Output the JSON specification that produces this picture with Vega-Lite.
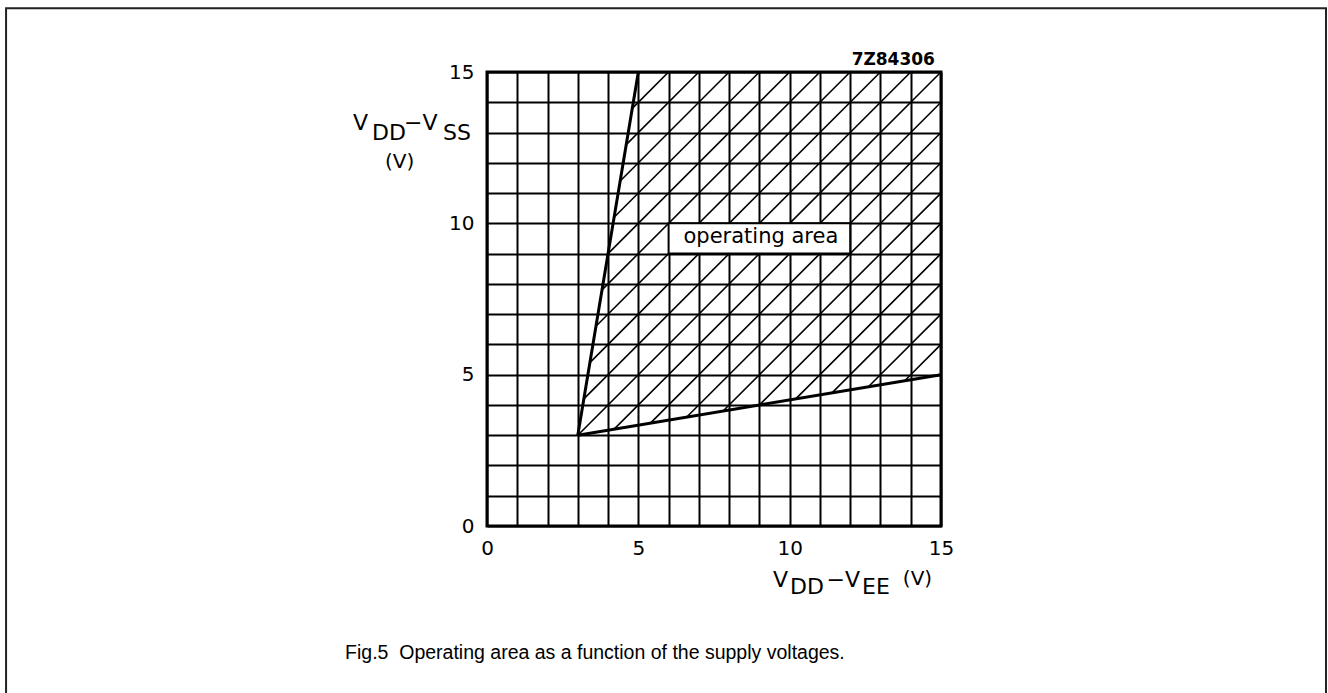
{
  "$schema": "https://vega.github.io/schema/vega-lite/v6.json",
  "width": 454,
  "height": 454,
  "autosize": {"type": "none"},
  "padding": {"left": 487, "top": 72, "right": 387, "bottom": 167},
  "background": "white",
  "config": {
    "view": {"stroke": "black", "strokeWidth": 3},
    "font": "DejaVu Sans"
  },
  "layer": [
    {
      "data": {"values": [
        {"x": 3, "y": 3, "x2": 15, "y2": 15},
        {"x": 3.2, "y": 4.2, "x2": 14, "y2": 15},
        {"x": 3.4, "y": 5.4, "x2": 13, "y2": 15},
        {"x": 3.6, "y": 6.6, "x2": 12, "y2": 15},
        {"x": 3.8, "y": 7.8, "x2": 11, "y2": 15},
        {"x": 4.0, "y": 9.0, "x2": 10, "y2": 15},
        {"x": 4.2, "y": 10.2, "x2": 9, "y2": 15},
        {"x": 4.4, "y": 11.4, "x2": 8, "y2": 15},
        {"x": 4.6, "y": 12.6, "x2": 7, "y2": 15},
        {"x": 4.8, "y": 13.8, "x2": 6, "y2": 15},
        {"x": 4.2, "y": 3.2, "x2": 15, "y2": 14},
        {"x": 5.4, "y": 3.4, "x2": 15, "y2": 13},
        {"x": 6.6, "y": 3.6, "x2": 15, "y2": 12},
        {"x": 7.8, "y": 3.8, "x2": 15, "y2": 11},
        {"x": 9.0, "y": 4.0, "x2": 15, "y2": 10},
        {"x": 10.2, "y": 4.2, "x2": 15, "y2": 9},
        {"x": 11.4, "y": 4.4, "x2": 15, "y2": 8},
        {"x": 12.6, "y": 4.6, "x2": 15, "y2": 7},
        {"x": 13.8, "y": 4.8, "x2": 15, "y2": 6}
      ]},
      "mark": {"type": "rule", "color": "black", "strokeWidth": 1.6},
      "encoding": {
        "x": {
          "field": "x", "type": "quantitative",
          "scale": {"domain": [0, 15], "nice": false, "zero": false},
          "axis": {
            "values": [0,1,2,3,4,5,6,7,8,9,10,11,12,13,14,15],
            "tickCount": 40,
            "format": "d",
            "labelExpr": "datum.value % 5 === 0 ? datum.label : ''",
            "labelOverlap": false, "labelFlush": false,
            "labelFontSize": 20, "labelColor": "black", "labelPadding": 12,
            "labelFont": "DejaVu Sans",
            "ticks": false, "domain": false,
            "grid": true, "gridColor": "black", "gridWidth": 2, "gridOpacity": 1,
            "title": null
          }
        },
        "y": {
          "field": "y", "type": "quantitative",
          "scale": {"domain": [0, 15], "nice": false, "zero": false},
          "axis": {
            "values": [0,1,2,3,4,5,6,7,8,9,10,11,12,13,14,15],
            "tickCount": 40,
            "format": "d",
            "labelExpr": "datum.value % 5 === 0 ? datum.label : ''",
            "labelOverlap": false, "labelFlush": false,
            "labelFontSize": 20, "labelColor": "black", "labelPadding": 13,
            "labelFont": "DejaVu Sans",
            "ticks": false, "domain": false,
            "grid": true, "gridColor": "black", "gridWidth": 2, "gridOpacity": 1,
            "title": null
          }
        },
        "x2": {"field": "x2"},
        "y2": {"field": "y2"}
      }
    },
    {
      "data": {"values": [
        {"x": 3, "y": 3, "x2": 5, "y2": 15},
        {"x": 3, "y": 3, "x2": 15, "y2": 5}
      ]},
      "mark": {"type": "rule", "color": "black", "strokeWidth": 3},
      "encoding": {
        "x": {"field": "x", "type": "quantitative"},
        "y": {"field": "y", "type": "quantitative"},
        "x2": {"field": "x2"},
        "y2": {"field": "y2"}
      }
    },
    {
      "data": {"values": [{"x": 6, "x2": 12, "y": 9, "y2": 10}]},
      "mark": {"type": "rect", "fill": "white", "stroke": "black", "strokeWidth": 2},
      "encoding": {
        "x": {"field": "x", "type": "quantitative"},
        "x2": {"field": "x2"},
        "y": {"field": "y", "type": "quantitative"},
        "y2": {"field": "y2"}
      }
    },
    {
      "data": {"values": [{"t": "operating area", "x": 9.05, "y": 9.5}]},
      "mark": {"type": "text", "fontSize": 21, "font": "DejaVu Sans", "color": "black", "align": "center", "baseline": "middle", "dy": -1},
      "encoding": {
        "x": {"field": "x", "type": "quantitative"},
        "y": {"field": "y", "type": "quantitative"},
        "text": {"field": "t"}
      }
    },
    {
      "data": {"values": [
        {"t": "V", "x": -4.43, "y": 13.1},
        {"t": "DD", "x": -3.8, "y": 12.74},
        {"t": "−V", "x": -2.74, "y": 13.1},
        {"t": "SS", "x": -1.45, "y": 12.74},
        {"t": "V", "x": 9.45, "y": -2.02},
        {"t": "DD", "x": 10.01, "y": -2.25},
        {"t": "−V", "x": 11.22, "y": -2.02},
        {"t": "EE", "x": 12.39, "y": -2.25}
      ]},
      "mark": {"type": "text", "fontSize": 22, "font": "DejaVu Sans", "color": "black", "align": "left", "baseline": "alphabetic"},
      "encoding": {
        "x": {"field": "x", "type": "quantitative"},
        "y": {"field": "y", "type": "quantitative"},
        "text": {"field": "t"}
      }
    },
    {
      "data": {"values": [
        {"t": "(V)", "x": -3.37, "y": 11.83},
        {"t": "(V)", "x": 13.74, "y": -1.95}
      ]},
      "mark": {"type": "text", "fontSize": 20, "font": "DejaVu Sans", "color": "black", "align": "left", "baseline": "alphabetic"},
      "encoding": {
        "x": {"field": "x", "type": "quantitative"},
        "y": {"field": "y", "type": "quantitative"},
        "text": {"field": "t"}
      }
    },
    {
      "data": {"values": [{"t": "7Z84306", "x": 14.8, "y": 15.23}]},
      "mark": {"type": "text", "fontSize": 17, "font": "DejaVu Sans", "fontWeight": "bold", "color": "black", "align": "right", "baseline": "alphabetic"},
      "encoding": {
        "x": {"field": "x", "type": "quantitative"},
        "y": {"field": "y", "type": "quantitative"},
        "text": {"field": "t"}
      }
    },
    {
      "data": {"values": [{"t": "Fig.5\u00a0\u00a0Operating area as a function of the supply voltages.", "x": -4.69, "y": -4.39}]},
      "mark": {"type": "text", "fontSize": 19.5, "font": "Liberation Sans", "color": "black", "align": "left", "baseline": "alphabetic"},
      "encoding": {
        "x": {"field": "x", "type": "quantitative"},
        "y": {"field": "y", "type": "quantitative"},
        "text": {"field": "t"}
      }
    },
    {
      "data": {"values": [{"x": -15.89, "x2": 27.72, "y": -6, "y2": 17.11}]},
      "mark": {"type": "rect", "filled": false, "stroke": "#222222", "strokeWidth": 2},
      "encoding": {
        "x": {"field": "x", "type": "quantitative"},
        "x2": {"field": "x2"},
        "y": {"field": "y", "type": "quantitative"},
        "y2": {"field": "y2"}
      }
    }
  ]
}
